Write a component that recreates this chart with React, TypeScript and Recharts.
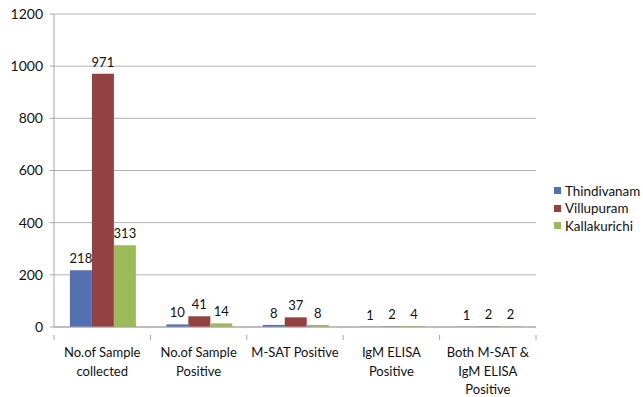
import React from "react";
import {
  BarChart,
  Bar,
  XAxis,
  YAxis,
  CartesianGrid,
  LabelList,
} from "recharts";

// Survey results by district
const categories = [
  "No.of Sample\ncollected",
  "No.of Sample\nPositive",
  "M-SAT Positive",
  "IgM ELISA\nPositive",
  "Both M-SAT &\nIgM ELISA\nPositive",
];
const thindivanam = [218, 10, 8, 1, 1];
const villupuram = [971, 41, 37, 2, 2];
const kallakurichi = [313, 14, 8, 4, 2];
const yTicks = [0, 200, 400, 600, 800, 1000, 1200];

const seriesNames = ["Thindivanam", "Villupuram", "Kallakurichi"];
const seriesColors = ["#5470B3", "#954141", "#9BBB59"];

const data = categories.map((name, i) => ({
  name,
  Thindivanam: thindivanam[i],
  Villupuram: villupuram[i],
  Kallakurichi: kallakurichi[i],
}));

const WIDTH = 643;
const HEIGHT = 397;
const MARGIN = { top: 14, right: 107, bottom: 0, left: 0 };
const Y_AXIS_WIDTH = 54;
const X_AXIS_HEIGHT = 70;
const FONT = "Lato, 'Liberation Sans', sans-serif";
const AXIS_COLOR = "#a6a6a6";

const plotWidth = WIDTH - MARGIN.left - MARGIN.right - Y_AXIS_WIDTH;
const halfBand = plotWidth / categories.length / 2;

const CategoryTick = (props: any) => {
  const { x, y, payload, index } = props;
  const lines = String(payload.value).split("\n");
  const isLast = index === categories.length - 1;
  return (
    <g>
      <line x1={x - halfBand} x2={x - halfBand} y1={y} y2={y + 5} stroke={AXIS_COLOR} />
      {isLast && (
        <line x1={x + halfBand} x2={x + halfBand} y1={y} y2={y + 5} stroke={AXIS_COLOR} />
      )}
      <text
        x={x}
        y={y + 22}
        textAnchor="middle"
        fontFamily={FONT}
        fontSize={13}
        fill="#111"
      >
        {lines.map((l, i) => (
          <tspan key={i} x={x} dy={i === 0 ? 0 : 18.5}>
            {l}
          </tspan>
        ))}
      </text>
    </g>
  );
};

export default function App() {
  return (
    <div
      style={{
        position: "absolute",
        left: 0,
        top: 0,
        width: WIDTH,
        height: HEIGHT,
        background: "#fff",
      }}
    >
      <BarChart
        width={WIDTH}
        height={HEIGHT}
        data={data}
        margin={MARGIN}
        barCategoryGap="16.5%"
        barGap={0}
      >
        <CartesianGrid vertical={false} stroke="#b3b3b3" />
        <XAxis
          dataKey="name"
          height={X_AXIS_HEIGHT}
          interval={0}
          tickLine={false}
          stroke={AXIS_COLOR}
          tick={<CategoryTick />}
        />
        <YAxis
          width={Y_AXIS_WIDTH}
          domain={[0, 1200]}
          ticks={yTicks}
          tickSize={4}
          tickMargin={7}
          stroke={AXIS_COLOR}
          tick={{ fontFamily: FONT, fontSize: 14, fill: "#111" }}
        />
        {seriesNames.map((s, i) => (
          <Bar key={s} dataKey={s} fill={seriesColors[i]} isAnimationActive={false}>
            <LabelList
              dataKey={s}
              position="top"
              offset={7}
              fontFamily={FONT}
              fontSize={13}
              fill="#111"
            />
          </Bar>
        ))}
      </BarChart>
      <div
        style={{
          position: "absolute",
          left: 554,
          top: 182,
          width: 88,
          fontFamily: FONT,
          fontSize: 13.4,
          color: "#111",
          whiteSpace: "nowrap",
        }}
      >
        {seriesNames.map((s, i) => (
          <div key={s} style={{ display: "flex", alignItems: "center", height: 17.5 }}>
            <span
              style={{
                display: "inline-block",
                flexShrink: 0,
                width: 7,
                height: 7,
                background: seriesColors[i],
                marginRight: 4,
              }}
            />
            <span>{s}</span>
          </div>
        ))}
      </div>
    </div>
  );
}
